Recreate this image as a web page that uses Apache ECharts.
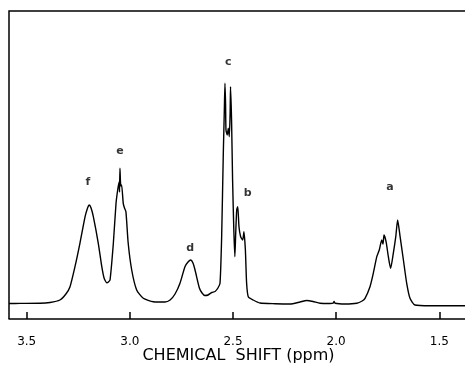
<!DOCTYPE html>
<html>
<head>
<meta charset="utf-8">
<script src="https://cdn.jsdelivr.net/npm/echarts@6/dist/echarts.min.js"></script>
<style>
html,body{margin:0;padding:0;background:#fff;}
#chart{width:465px;height:365px;}
</style>
</head>
<body>
<div id="chart"></div>
<script>
// Chemical shift (ppm) and intensity measured up from the axis line (arbitrary units)
var shiftPpm = [
  3.586, 3.532, 3.436, 3.387, 3.339, 3.310, 3.290, 3.266, 3.242, 3.217,
  3.205, 3.197, 3.188, 3.177, 3.153, 3.136, 3.125, 3.112, 3.104, 3.096,
  3.080, 3.067, 3.059, 3.052, 3.050, 3.048, 3.044, 3.040, 3.032, 3.026,
  3.019, 3.008, 2.991, 2.967, 2.935, 2.886, 2.830, 2.805, 2.781, 2.757,
  2.733, 2.718, 2.705, 2.694, 2.684, 2.663, 2.650, 2.636, 2.621, 2.603,
  2.587, 2.573, 2.563, 2.555, 2.547, 2.542, 2.539, 2.536, 2.534, 2.528,
  2.523, 2.518, 2.514, 2.512, 2.507, 2.502, 2.496, 2.491, 2.487, 2.482,
  2.477, 2.471, 2.463, 2.453, 2.447, 2.440, 2.434, 2.426, 2.402, 2.369,
  2.296, 2.224, 2.175, 2.143, 2.112, 2.078, 2.030, 2.015, 2.010, 2.005,
  1.957, 1.900, 1.874, 1.860, 1.836, 1.820, 1.803, 1.791, 1.779, 1.773,
  1.768, 1.758, 1.747, 1.736, 1.723, 1.711, 1.702, 1.690, 1.674, 1.658,
  1.642, 1.618, 1.545, 1.361
];
var intensity = [
  15.5, 15.6, 15.7, 16.5, 19, 25, 32.3, 52.3, 75.7, 102.3,
  111, 114, 111, 102.3, 75.7, 52.3, 41, 36.3, 37, 39,
  75.7, 115.7, 129, 137, 127, 150.7, 133, 134, 115.7, 111,
  107.3, 75.7, 49, 29, 20.7, 17.3, 17, 19, 25, 35.7,
  52.3, 57, 59, 56, 49, 31, 26, 23.5, 24, 26.5,
  27.5, 31, 35.7, 82.3, 165.7, 209, 235.7, 215, 189, 184,
  190.7, 182.3, 205, 232.3, 199, 139, 89, 62.3, 85, 109,
  112.3, 92.3, 82.3, 79, 87.3, 69, 35.7, 22.3, 19, 16,
  15.3, 15, 17, 18.5, 17.5, 15.7, 15.5, 15.8, 17.5, 15.7,
  15, 15.7, 18, 20.7, 32.3, 45.7, 62.3, 69, 79, 75,
  84, 77.3, 62.3, 50.7, 65.7, 82.3, 99, 82.3, 59, 35.7,
  20.7, 14, 13.3, 13.3
];
var tickValues = [3.5, 3.0, 2.5, 2.0, 1.5];
var peakNames = ['a', 'b', 'c', 'd', 'e', 'f'];
var peakLabelPpm = [1.739, 2.429, 2.523, 2.708, 3.048, 3.203];
var peakLabelHeight = [132, 126, 257, 71, 168, 137];

var spectrum = shiftPpm.map(function (x, i) { return [x, intensity[i]]; });
var labelPts = peakNames.map(function (n, i) {
  return { name: n, value: [peakLabelPpm[i], peakLabelHeight[i]] };
});

var xMin = 1.3609, xMax = 3.5858;
var chart = echarts.init(document.getElementById('chart'));
chart.setOption({
  animation: false,
  backgroundColor: '#fff',
  grid: { left: 9, top: 11, right: -3, bottom: 45, show: false, containLabel: false, outerBoundsMode: 'none' },
  graphic: [{
    type: 'polyline', silent: true, z: 10,
    shape: { points: [[9, 319], [9, 11], [465, 11]] },
    style: { stroke: '#000', lineWidth: 1.5, fill: null }
  }],
  xAxis: {
    type: 'value', inverse: true, min: xMin, max: xMax,
    axisLine: { show: true, onZero: true, lineStyle: { color: '#000', width: 1.5 } },
    axisTick: { show: true, inside: true, length: 7, customValues: tickValues, lineStyle: { color: '#000', width: 1.5 } },
    axisLabel: { customValues: tickValues, color: '#000', fontFamily: 'DejaVu Sans', fontSize: 12, margin: 16,
      formatter: function (v) { return v.toFixed(1); } },
    splitLine: { show: false },
    name: 'CHEMICAL  SHIFT (ppm)', nameLocation: 'middle', nameGap: 28, nameMoveOverlap: false,
    nameTextStyle: { color: '#000', fontFamily: 'DejaVu Sans', fontSize: 16 }
  },
  yAxis: { type: 'value', min: -1, max: 308, show: false },
  series: [
    { type: 'line', data: spectrum, showSymbol: false, smooth: 0.2, clip: true,
      lineStyle: { color: '#000', width: 1.4 } },
    { type: 'scatter', data: labelPts, symbolSize: 0, silent: true,
      label: { show: true, position: 'inside', formatter: '{b}', color: '#000', fontFamily: 'DejaVu Sans', fontSize: 11, fontWeight: 'bold' } }
  ]
});
</script>
</body>
</html>
